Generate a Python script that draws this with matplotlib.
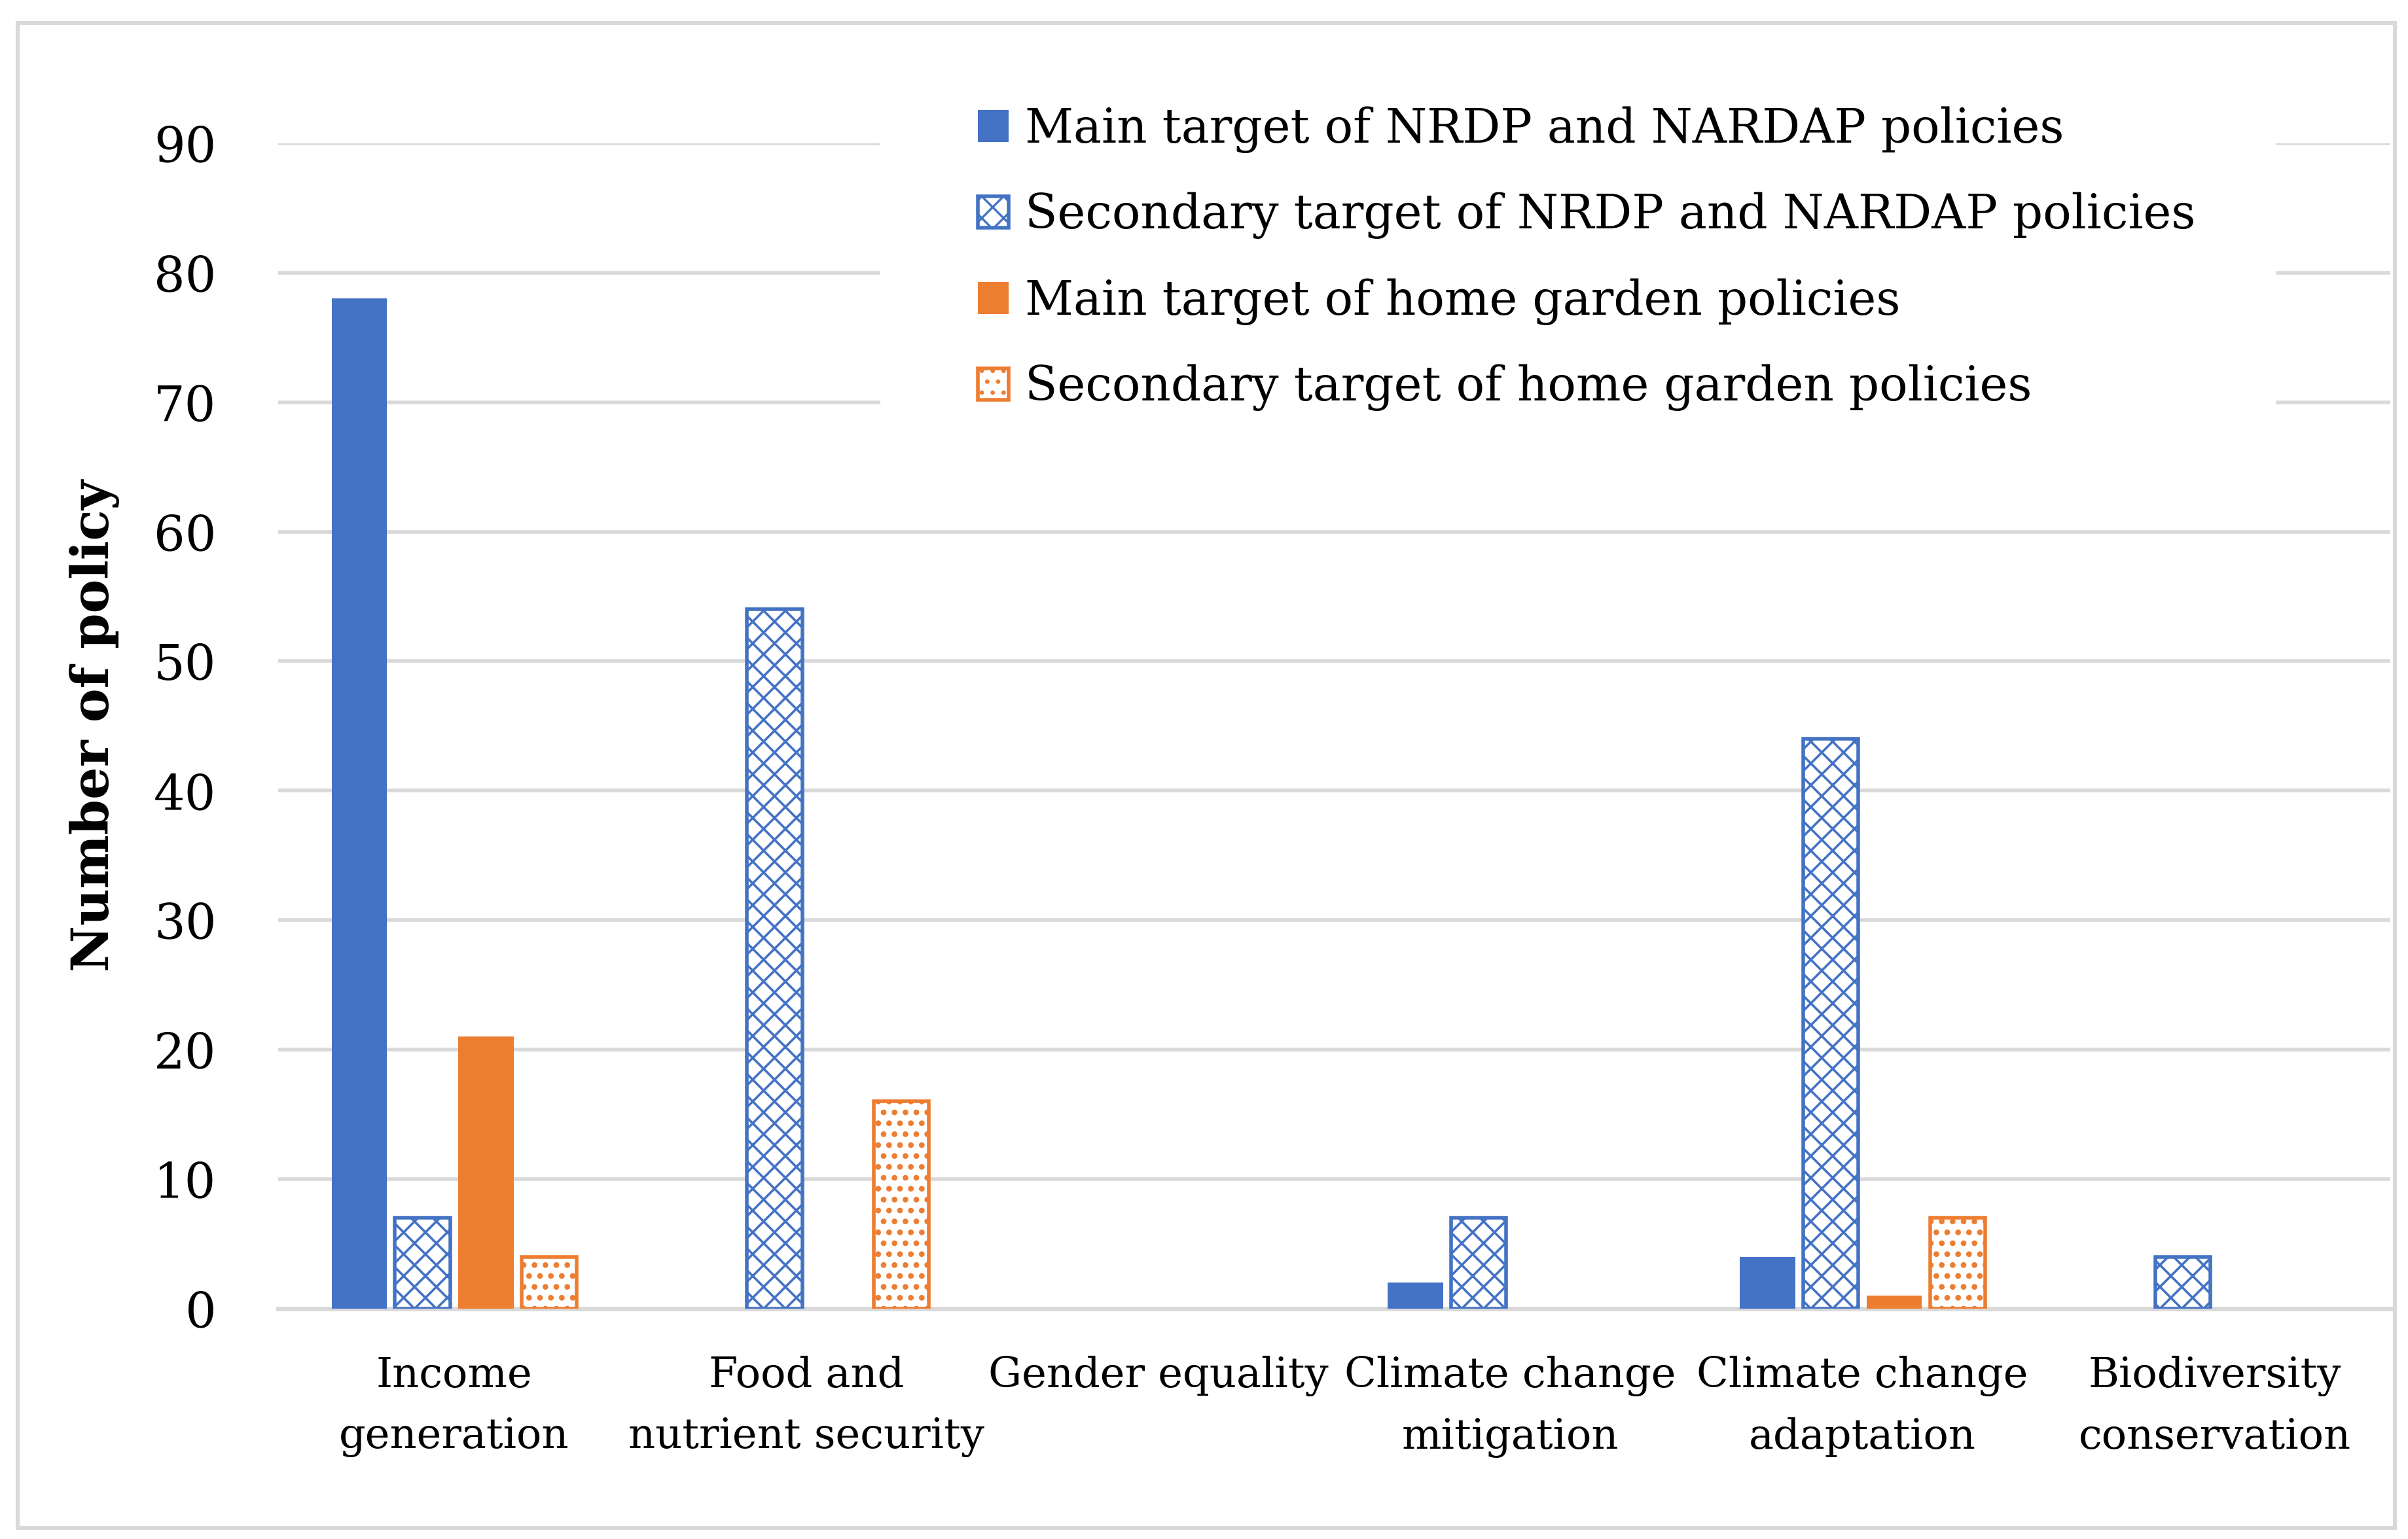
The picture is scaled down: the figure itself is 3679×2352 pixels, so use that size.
import matplotlib.pyplot as plt
import numpy as np
from matplotlib.patches import Rectangle

# Data
categories = ['Income\ngeneration', 'Food and\nnutrient security', 'Gender equality',
              'Climate change\nmitigation', 'Climate change\nadaptation',
              'Biodiversity\nconservation']
series_labels = ['Main target of NRDP and NARDAP policies',
                 'Secondary target of NRDP and NARDAP policies',
                 'Main target of home garden policies',
                 'Secondary target of home garden policies']
nrdp_main = [78, 0, 0, 2, 4, 0]
nrdp_secondary = [7, 54, 0, 7, 44, 4]
garden_main = [21, 0, 0, 0, 1, 0]
garden_secondary = [4, 16, 0, 0, 7, 0]
y_ticks = [0, 10, 20, 30, 40, 50, 60, 70, 80, 90]

BLUE = '#4472C4'
ORANGE = '#ED7D31'
GRID = '#D9D9D9'

plt.rcParams['font.family'] = ['DejaVu Serif']
plt.rcParams['hatch.linewidth'] = 1.2

fig = plt.figure(figsize=(18.4, 11.76), dpi=200)
ax = fig.add_axes([0.1155, 0.1497, 0.9925 - 0.1155, 0.9069 - 0.1497])

x = np.arange(len(categories))
step = 0.18
width = 0.157

styles = [
    dict(color=BLUE, edgecolor=BLUE, linewidth=0),
    dict(facecolor='white', edgecolor=BLUE, hatch='xx', linewidth=2),
    dict(color=ORANGE, edgecolor=ORANGE, linewidth=0),
    dict(facecolor='white', edgecolor=ORANGE, hatch='..', linewidth=2),
]
hatch_lw = [1.2, 1.3, 1.2, 1.9]
all_series = [nrdp_main, nrdp_secondary, garden_main, garden_secondary]

for i, (vals, lab, st) in enumerate(zip(all_series, series_labels, styles)):
    with plt.rc_context({'hatch.linewidth': hatch_lw[i]}):
        bars = ax.bar(x + (i - 1.5) * step, vals, width, label=lab, zorder=3, **st)
    for b, v in zip(bars, vals):
        if hasattr(b, 'set_hatch_linewidth'):
            b.set_hatch_linewidth(hatch_lw[i])
        # Excel shows nothing for zero values
        if v == 0:
            b.set_visible(False)

ax.set_xlim(-0.5, len(categories) - 0.5)
ax.set_ylim(0, 90)
ax.set_yticks(y_ticks)
ax.set_xticks(x)
ax.set_xticklabels(categories, fontsize=23, linespacing=1.65)
ax.tick_params(axis='y', labelsize=27, length=0, pad=34)
ax.tick_params(axis='x', length=0, pad=26)
ax.yaxis.grid(True, color=GRID, linewidth=2, zorder=0)
ax.set_axisbelow(True)
for s in ['top', 'right', 'left']:
    ax.spines[s].set_visible(False)
ax.spines['bottom'].set_color(GRID)
ax.spines['bottom'].set_linewidth(2.5)

ax.set_ylabel('Number of policy', fontsize=28, fontweight='bold')
ax.yaxis.set_label_coords(-0.075, 0.5)

# white legend area hiding the gridlines, like the Excel legend box
fig.patches.append(Rectangle((0.3655, 0.724), 0.9448 - 0.3655, 0.949 - 0.724,
                             transform=fig.transFigure, facecolor='white',
                             edgecolor='none', zorder=1))

leg = fig.legend(loc='upper left', bbox_to_anchor=(0.406, 0.931), fontsize=26,
                 frameon=False, handlelength=0.65, handleheight=0.65,
                 handletextpad=0.35, labelspacing=0.83, borderpad=0,
                 borderaxespad=0)
leg.set_zorder(5)

# outer chart border
fig.patches.append(Rectangle((0.0073, 0.0072), 0.9870, 0.9779, transform=fig.transFigure,
                             fill=False, edgecolor=GRID, linewidth=2.2, zorder=2))

fig.savefig('out.png', dpi=200, facecolor='white')
